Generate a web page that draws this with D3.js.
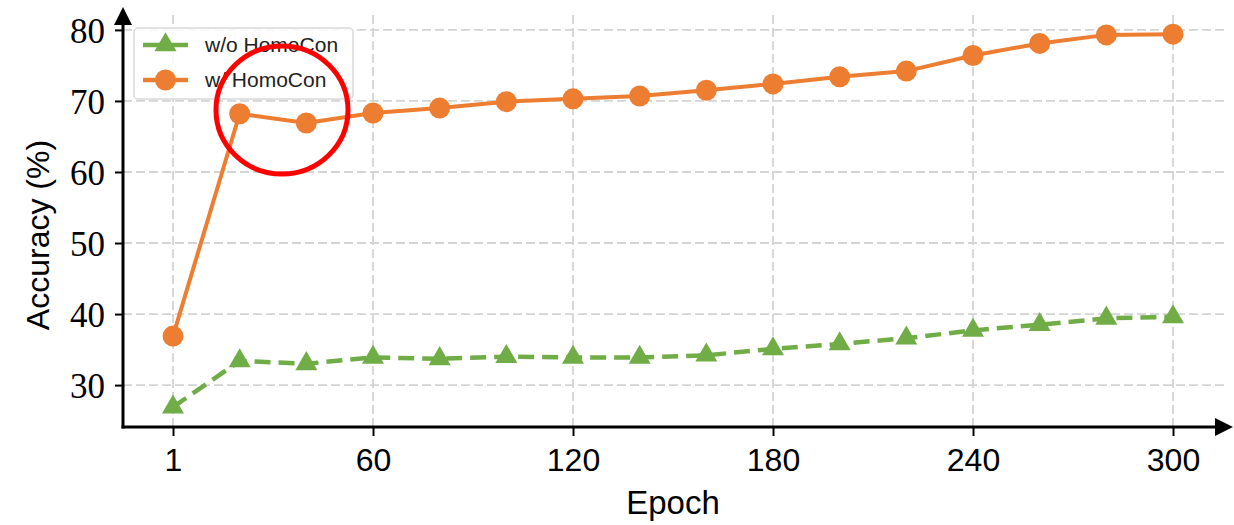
<!DOCTYPE html>
<html>
<head>
<meta charset="utf-8">
<script src="https://cdn.jsdelivr.net/npm/d3@7/dist/d3.min.js"></script>
<style>
  body { margin: 0; background: #fff; }
  svg { display: block; }
</style>
</head>
<body>
<script>
// data
var epochs = [1, 20, 40, 60, 80, 100, 120, 140, 160, 180, 200, 220, 240, 260, 280, 300];
var withHomoCon = [36.9, 68.2, 66.9, 68.3, 69.0, 69.9, 70.3, 70.7, 71.5, 72.4, 73.4, 74.2, 76.4, 78.1, 79.3, 79.4];
var withoutHomoCon = [26.9, 33.4, 33.0, 33.9, 33.7, 34.0, 33.9, 33.9, 34.2, 35.1, 35.8, 36.6, 37.7, 38.5, 39.4, 39.6];
var xTickLabels = [1, 60, 120, 180, 240, 300];
var yTickValues = [30, 40, 50, 60, 70, 80];
var legendLabels = ["w/o HomoCon", "w/ HomoCon"];

var width = 1234;
var height = 525;
var orange = "#ED7D31";
var green = "#70AD47";
var gridColor = "#d4d4d4";
var serif = "'Liberation Serif', 'DejaVu Serif', serif";
var sans = "'Liberation Sans', Arial, sans-serif";

var svg = d3.select("body")
  .append("svg")
  .attr("width", width)
  .attr("height", height);

// scales
var x = d3.scalePoint()
  .domain(epochs)
  .range([173, 1173]);

var y = d3.scaleLinear()
  .domain([24.1, 82.1])
  .range([427, 15]);

var axisX = 123, axisY = 427;

// grid
svg.append("g")
  .selectAll("line")
  .data(yTickValues)
  .enter()
  .append("line")
  .attr("x1", axisX)
  .attr("x2", 1225)
  .attr("y1", function(d) { return y(d); })
  .attr("y2", function(d) { return y(d); })
  .style("stroke", gridColor)
  .style("stroke-width", 1.8)
  .style("stroke-dasharray", "9,4");

svg.append("g")
  .selectAll("line")
  .data(xTickLabels)
  .enter()
  .append("line")
  .attr("x1", function(d) { return x(d); })
  .attr("x2", function(d) { return x(d); })
  .attr("y1", axisY)
  .attr("y2", 15)
  .style("stroke", gridColor)
  .style("stroke-width", 1.8)
  .style("stroke-dasharray", "9,4");

// axes with d3 axis generators
var yAxis = svg.append("g")
  .attr("transform", "translate(" + axisX + ",0)")
  .call(d3.axisLeft(y).tickValues(yTickValues).tickSize(8).tickPadding(10));
yAxis.attr("font-family", serif).attr("font-size", 35);
yAxis.select(".domain").remove();
yAxis.selectAll(".tick line").style("stroke", "#000").style("stroke-width", 2);
yAxis.selectAll(".tick text")
  .attr("font-family", serif)
  .style("font-family", serif)
  .style("font-size", "35px")
  .style("fill", "#000")
  .attr("dy", "0.36em");

var xAxis = svg.append("g")
  .attr("transform", "translate(0," + axisY + ")")
  .call(d3.axisBottom(x).tickValues(xTickLabels).tickSize(9).tickPadding(8));
xAxis.attr("font-family", sans).attr("font-size", 32);
xAxis.select(".domain").remove();
xAxis.selectAll(".tick line").style("stroke", "#000").style("stroke-width", 2);
xAxis.selectAll(".tick text")
  .style("font-family", sans)
  .style("font-size", "32px")
  .style("fill", "#000")
  .attr("dy", "0.85em");

// axis lines and arrows
svg.append("line")
  .attr("x1", axisX).attr("x2", axisX)
  .attr("y1", axisY + 1.5).attr("y2", 22)
  .style("stroke", "#000").style("stroke-width", 3);
svg.append("path")
  .attr("d", "M" + (axisX - 9) + ",25 L" + axisX + ",7 L" + (axisX + 9) + ",25 Z")
  .style("fill", "#000");
svg.append("line")
  .attr("x1", axisX - 1.5).attr("x2", 1218)
  .attr("y1", axisY).attr("y2", axisY)
  .style("stroke", "#000").style("stroke-width", 3);
svg.append("path")
  .attr("d", "M1215," + (axisY - 9) + " L1233," + axisY + " L1215," + (axisY + 9) + " Z")
  .style("fill", "#000");

// lines
var line = function(values) {
  return d3.line()
    .x(function(d, i) { return x(epochs[i]); })
    .y(function(d) { return y(d); })(values);
};

svg.append("path")
  .attr("d", line(withoutHomoCon))
  .style("fill", "none")
  .style("stroke", green)
  .style("stroke-width", 4.5)
  .style("stroke-dasharray", "16,8");

svg.append("path")
  .attr("d", line(withHomoCon))
  .style("fill", "none")
  .style("stroke", orange)
  .style("stroke-width", 4);

var tri = d3.symbol().type(d3.symbolTriangle).size(210);

svg.append("g")
  .selectAll("path")
  .data(withoutHomoCon)
  .enter()
  .append("path")
  .attr("d", tri)
  .attr("transform", function(d, i) { return "translate(" + x(epochs[i]) + "," + y(d) + ")"; })
  .style("fill", green);

svg.append("g")
  .selectAll("circle")
  .data(withHomoCon)
  .enter()
  .append("circle")
  .attr("cx", function(d, i) { return x(epochs[i]); })
  .attr("cy", function(d) { return y(d); })
  .attr("r", 10.5)
  .style("fill", orange);

// legend
var legend = svg.append("g");
legend.append("rect")
  .attr("x", 134).attr("y", 28)
  .attr("width", 219).attr("height", 71)
  .attr("rx", 4)
  .style("fill", "rgba(255,255,255,0.85)")
  .style("stroke", "#d9d9d9")
  .style("stroke-width", 1.5);

var legendRows = [
  { label: legendLabels[0], color: green, marker: "tri", ly: 45 },
  { label: legendLabels[1], color: orange, marker: "circle", ly: 80 }
];
legendRows.forEach(function(r) {
  legend.append("line")
    .attr("x1", 143).attr("x2", 188)
    .attr("y1", r.ly).attr("y2", r.ly)
    .style("stroke", r.color)
    .style("stroke-width", 4.5);
  if (r.marker === "tri") {
    legend.append("path")
      .attr("d", tri)
      .attr("transform", "translate(165.5," + r.ly + ")")
      .style("fill", r.color);
  } else {
    legend.append("circle")
      .attr("cx", 165.5).attr("cy", r.ly).attr("r", 10.5)
      .style("fill", r.color);
  }
  legend.append("text")
    .attr("x", 205).attr("y", r.ly + 7)
    .style("font-family", sans)
    .style("font-size", "21px")
    .style("fill", "#222")
    .text(r.label);
});

// axis titles
svg.append("text")
  .attr("x", 673).attr("y", 514)
  .attr("text-anchor", "middle")
  .style("font-family", sans)
  .style("font-size", "33px")
  .style("fill", "#000")
  .text("Epoch");

svg.append("text")
  .attr("transform", "translate(49,235) rotate(-90)")
  .attr("text-anchor", "middle")
  .style("font-family", sans)
  .style("font-size", "32px")
  .style("fill", "#000")
  .text("Accuracy (%)");

// red highlight ring
svg.append("ellipse")
  .attr("cx", x(epochs[1]) + 0.5 * (x(epochs[2]) - x(epochs[1])) + 9)
  .attr("cy", 110)
  .attr("rx", 66)
  .attr("ry", 64)
  .style("fill", "none")
  .style("stroke", "#ff0000")
  .style("stroke-width", 5);
</script>
</body>
</html>
